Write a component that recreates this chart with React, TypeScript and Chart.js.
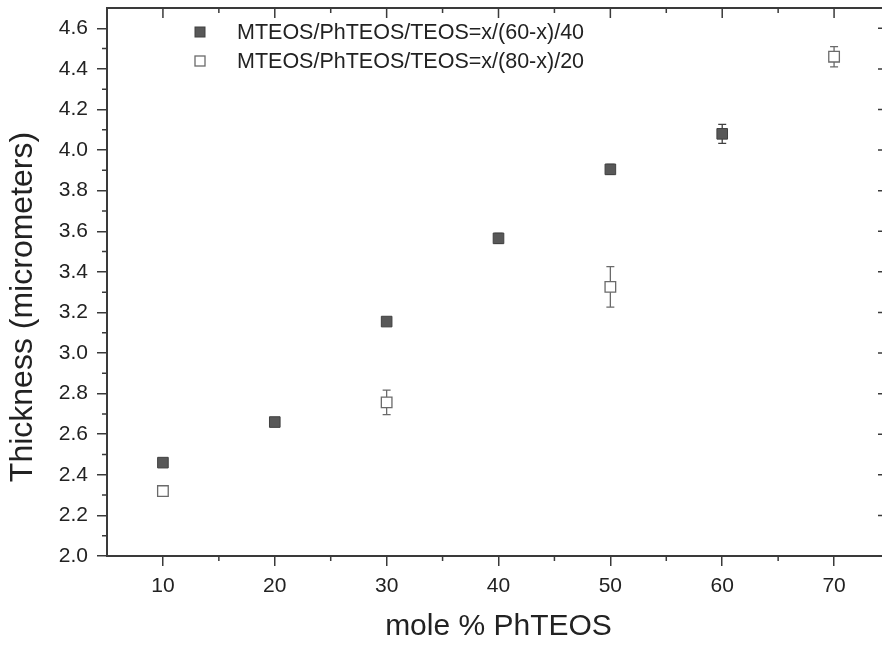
import React, { useEffect, useRef } from "react";
import { Chart, registerables } from "chart.js";

Chart.register(...registerables);

// ---- data ----
const seriesLabels = [
  "MTEOS/PhTEOS/TEOS=x/(60-x)/40",
  "MTEOS/PhTEOS/TEOS=x/(80-x)/20",
];
const molePctA = [10, 20, 30, 40, 50, 60];
const thicknessA = [2.46, 2.66, 3.155, 3.565, 3.905, 4.08];
const errorA = [0.01, 0.01, 0.012, 0.025, 0.025, 0.047];
const molePctB = [10, 30, 50, 70];
const thicknessB = [2.32, 2.757, 3.326, 4.46];
const errorB = [0.01, 0.06, 0.1, 0.05];
const xTickValues = [10, 20, 30, 40, 50, 60, 70];
const xMinorValues = [15, 25, 35, 45, 55, 65];
const yTickValues = [2.0, 2.2, 2.4, 2.6, 2.8, 3.0, 3.2, 3.4, 3.6, 3.8, 4.0, 4.2, 4.4, 4.6];
const yMinorValues = [2.1, 2.3, 2.5, 2.7, 2.9, 3.1, 3.3, 3.5, 3.7, 3.9, 4.1, 4.3, 4.5];
const xTitle = "mole % PhTEOS";
const yTitle = "Thickness (micrometers)";

const FONT = "'Liberation Sans', Arial, sans-serif";
const AXIS = "#3a3a3a";
const TEXT = "#222";
const FILL_A = "#585858";
const EDGE_A = "#404040";
const EDGE_B = "#6a6a6a";

const errors = [errorA, errorB];
const values = [thicknessA, thicknessB];

const decorPlugin = {
  id: "decor",
  beforeDatasetsDraw(chart: any) {
    const ctx = chart.ctx;
    const ys = chart.scales.y;
    ctx.save();
    ctx.lineWidth = 1.3;
    for (let i = 0; i < 2; i++) {
      const meta = chart.getDatasetMeta(i);
      ctx.strokeStyle = i === 0 ? EDGE_A : EDGE_B;
      meta.data.forEach((pt: any, j: number) => {
        const v = values[i][j];
        const e = errors[i][j];
        if (!e) return;
        const yt = ys.getPixelForValue(v + e);
        const yb = ys.getPixelForValue(v - e);
        const x = pt.x;
        ctx.beginPath();
        ctx.moveTo(x, yt);
        ctx.lineTo(x, yb);
        ctx.moveTo(x - 4, yt);
        ctx.lineTo(x + 4, yt);
        ctx.moveTo(x - 4, yb);
        ctx.lineTo(x + 4, yb);
        ctx.stroke();
      });
    }
    ctx.restore();
  },
  afterDraw(chart: any) {
    const ctx = chart.ctx;
    const { left, right, top, bottom } = chart.chartArea;
    const xs = chart.scales.x;
    const ys = chart.scales.y;
    ctx.save();
    ctx.strokeStyle = AXIS;
    ctx.lineWidth = 2;
    ctx.beginPath();
    ctx.moveTo(left, top);
    ctx.lineTo(right, top);
    ctx.lineTo(right, bottom);
    ctx.stroke();
    ctx.lineWidth = 1.5;
    ctx.beginPath();
    xMinorValues.forEach((v) => {
      const x = xs.getPixelForValue(v);
      ctx.moveTo(x, bottom);
      ctx.lineTo(x, bottom + 5);
      ctx.moveTo(x, top);
      ctx.lineTo(x, top + 5);
    });
    yMinorValues.forEach((v) => {
      const y = ys.getPixelForValue(v);
      ctx.moveTo(left, y);
      ctx.lineTo(left - 5, y);
      ctx.moveTo(right, y);
      ctx.lineTo(right - 5, y);
    });
    xTickValues.forEach((v) => {
      const x = xs.getPixelForValue(v);
      ctx.moveTo(x, top);
      ctx.lineTo(x, top + 10);
    });
    yTickValues.forEach((v) => {
      const y = ys.getPixelForValue(v);
      ctx.moveTo(right, y);
      ctx.lineTo(right - 12, y);
    });
    ctx.stroke();

    // y axis title
    ctx.save();
    ctx.translate(23, 307);
    ctx.rotate(-Math.PI / 2);
    ctx.font = `32px ${FONT}`;
    ctx.fillStyle = TEXT;
    ctx.textAlign = "center";
    ctx.textBaseline = "middle";
    ctx.fillText(yTitle, 0, 0);
    ctx.restore();

    // legend
    const rows = [32, 61];
    ctx.font = `21.5px ${FONT}`;
    ctx.textBaseline = "middle";
    ctx.textAlign = "left";
    rows.forEach((ry, i) => {
      const s = 10;
      if (i === 0) {
        ctx.fillStyle = FILL_A;
        ctx.fillRect(200 - s / 2, ry - s / 2, s, s);
        ctx.strokeStyle = EDGE_A;
        ctx.lineWidth = 1;
        ctx.strokeRect(200 - s / 2, ry - s / 2, s, s);
      } else {
        ctx.fillStyle = "#fff";
        ctx.fillRect(200 - s / 2, ry - s / 2, s, s);
        ctx.strokeStyle = EDGE_B;
        ctx.lineWidth = 1.3;
        ctx.strokeRect(200 - s / 2, ry - s / 2, s, s);
      }
      ctx.fillStyle = TEXT;
      ctx.fillText(seriesLabels[i], 237, ry + 1);
    });
    ctx.restore();
  },
};

export default function App() {
  const ref = useRef<HTMLCanvasElement | null>(null);
  useEffect(() => {
    if (!ref.current) return;
    const chart = new Chart(ref.current, {
      type: "scatter",
      data: {
        datasets: [
          {
            label: seriesLabels[0],
            data: molePctA.map((x, i) => ({ x, y: thicknessA[i] })),
            pointStyle: "rect",
            pointRadius: 7.5,
            backgroundColor: FILL_A,
            borderColor: EDGE_A,
            borderWidth: 1,
          },
          {
            label: seriesLabels[1],
            data: molePctB.map((x, i) => ({ x, y: thicknessB[i] })),
            pointStyle: "rect",
            pointRadius: 7.5,
            backgroundColor: "#ffffff",
            borderColor: EDGE_B,
            borderWidth: 1.3,
          },
        ],
      },
      options: {
        responsive: false,
        animation: false,
        layout: { autoPadding: false, padding: { top: 8, right: 2, left: 0, bottom: 0 } },
        plugins: { legend: { display: false }, tooltip: { enabled: false } },
        scales: {
          x: {
            type: "linear",
            min: 5,
            max: 75,
            afterFit: (s: any) => {
              s.height = 90;
              s.paddingLeft = 0;
              s.paddingRight = 0;
            },
            afterBuildTicks: (s: any) => {
              s.ticks = xTickValues.map((v) => ({ value: v }));
            },
            ticks: {
              font: { family: FONT, size: 21 },
              color: TEXT,
              padding: 8,
              maxRotation: 0,
              callback: (v: any) => String(v),
            },
            grid: {
              display: true,
              drawOnChartArea: false,
              drawTicks: true,
              tickLength: 10,
              color: AXIS,
              lineWidth: 1.5,
            },
            border: { display: true, color: AXIS, width: 2 },
            title: {
              display: true,
              text: xTitle,
              font: { family: FONT, size: 30 },
              color: TEXT,
              padding: { top: 0, bottom: 1 },
            },
          },
          y: {
            type: "linear",
            min: 2.0,
            max: 4.7,
            afterFit: (s: any) => {
              s.width = 107;
              s.paddingTop = 0;
              s.paddingBottom = 0;
            },
            afterBuildTicks: (s: any) => {
              s.ticks = yTickValues.map((v) => ({ value: v }));
            },
            ticks: {
              font: { family: FONT, size: 21 },
              color: TEXT,
              padding: 9,
              callback: (v: any) => Number(v).toFixed(1),
            },
            grid: {
              display: true,
              drawOnChartArea: false,
              drawTicks: true,
              tickLength: 10,
              color: AXIS,
              lineWidth: 1.5,
            },
            border: { display: true, color: AXIS, width: 2 },
            title: { display: false },
          },
        },
      },
      plugins: [decorPlugin],
    } as any);
    return () => chart.destroy();
  }, []);
  return (
    <canvas
      ref={ref}
      width={892}
      height={646}
      style={{ position: "fixed", left: 0, top: 0, width: 892, height: 646, background: "#fff" }}
    />
  );
}
